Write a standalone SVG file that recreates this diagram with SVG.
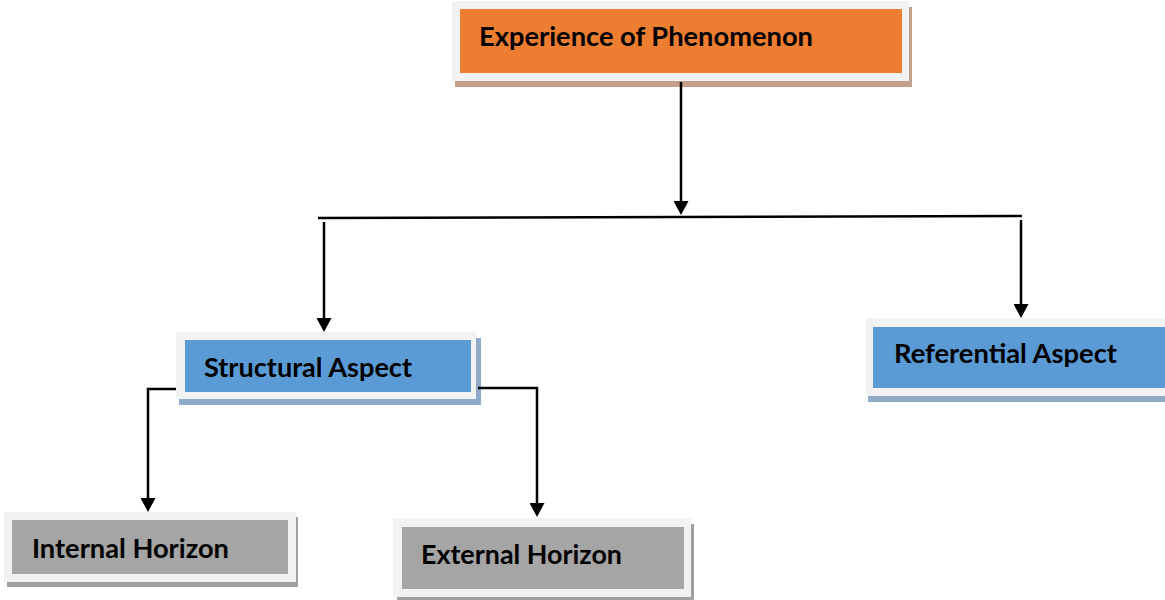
<svg xmlns="http://www.w3.org/2000/svg" width="1165" height="600" viewBox="0 0 1165 600">
<style>
.frame{fill:#F2F2F2}
.lbl{font-family:Lato,"Liberation Sans",sans-serif;font-weight:bold;font-size:27px;fill:#000}
.conn{fill:none;stroke:#000;stroke-width:2.5}
</style>
<defs>
<marker id="ah" markerUnits="userSpaceOnUse" markerWidth="15" markerHeight="15" refX="4" refY="7.5" orient="auto">
<path d="M0,0 L14,7.5 L0,15 z" fill="#000"/>
</marker>
</defs>
<rect width="1165" height="600" fill="#fff"/>
<g id="experience">
<rect x="455" y="7" width="457" height="80" fill="#C4A08A"/>
<rect class="frame" x="452" y="1" width="457" height="80"/>
<rect x="460" y="9" width="442" height="64" fill="#ED7D31"/>
<text class="lbl" x="479" y="46" textLength="334" lengthAdjust="spacingAndGlyphs">Experience of Phenomenon</text>
</g>
<g id="structural">
<rect x="179" y="338" width="302" height="67" fill="#8FAAC8"/>
<rect class="frame" x="176" y="332" width="300" height="67"/>
<rect x="185" y="340" width="286" height="52" fill="#5B9BD5"/>
<text class="lbl" x="204" y="377" textLength="208" lengthAdjust="spacingAndGlyphs">Structural Aspect</text>
</g>
<g id="referential">
<rect x="868" y="324" width="310" height="78" fill="#8FAAC8"/>
<rect class="frame" x="866" y="318" width="310" height="78"/>
<rect x="873" y="327" width="300" height="61" fill="#5B9BD5"/>
<text class="lbl" x="894" y="363" textLength="223" lengthAdjust="spacingAndGlyphs">Referential Aspect</text>
</g>
<g id="internal">
<rect x="7" y="517" width="291" height="70" fill="#A0A0A0"/>
<rect class="frame" x="4" y="512" width="292" height="70"/>
<rect x="12" y="520" width="276" height="54" fill="#A5A5A5"/>
<text class="lbl" x="32" y="558" textLength="197" lengthAdjust="spacingAndGlyphs">Internal Horizon</text>
</g>
<g id="external">
<rect x="397" y="524" width="297" height="76" fill="#A0A0A0"/>
<rect class="frame" x="393" y="518" width="298" height="79"/>
<rect x="402" y="527" width="282" height="62" fill="#A5A5A5"/>
<text class="lbl" x="421" y="564" textLength="201" lengthAdjust="spacingAndGlyphs">External Horizon</text>
</g>
<g id="connectors">
<line class="conn" x1="681" y1="82" x2="681" y2="205" marker-end="url(#ah)"/>
<line class="conn" x1="318" y1="218" x2="1022" y2="216"/>
<line class="conn" x1="324" y1="222" x2="324" y2="322" marker-end="url(#ah)"/>
<line class="conn" x1="1021" y1="220" x2="1021" y2="308" marker-end="url(#ah)"/>
<polyline class="conn" points="176,389 148,389 148,502" marker-end="url(#ah)"/>
<polyline class="conn" points="478,388 537,388 537,507" marker-end="url(#ah)"/>
</g>
</svg>
